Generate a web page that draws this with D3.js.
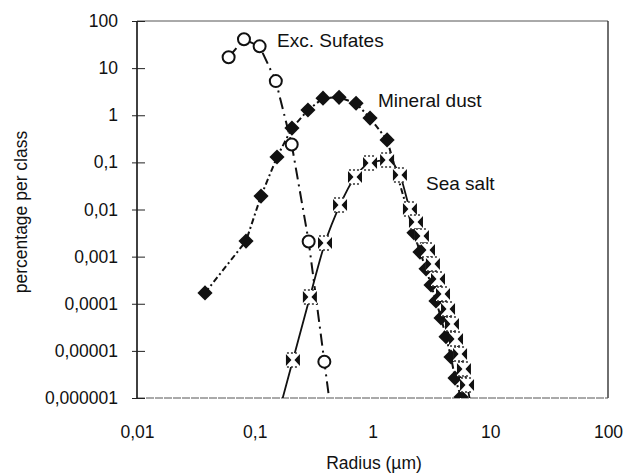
<!DOCTYPE html>
<html lang="en">
<head>
  <meta charset="UTF-8" />
  <title>Aerosol size distribution</title>
  <script src="https://cdnjs.cloudflare.com/ajax/libs/d3/7.8.2/d3.min.js"></script>
  <style>
    body {
      margin: 0;
      padding: 0;
      background: #fff;
    }
    svg {
      display: block;
      font-family: "Liberation Sans", Arial, sans-serif;
    }
    .axis text {
      font-size: 17.5px;
      fill: #111;
    }
    .label {
      font-size: 19px;
      fill: #111;
    }
  </style>
</head>
<body>

<svg id="chart" width="626" height="475"></svg>

<script>
/* -------------------------------------------------------
   DATA
------------------------------------------------------- */
const sulfRadius = [0.060, 0.081, 0.11, 0.151, 0.206, 0.287, 0.39];
const sulfValue  = [17, 41, 29, 5.3, 0.24, 0.0021, 0.0000059];

const dustRadius = [0.0378, 0.0843, 0.113, 0.1545, 0.207, 0.283, 0.38, 0.52, 0.725, 0.953, 1.33,
                    2.25, 2.53, 2.85, 3.14, 3.46, 3.82, 4.21, 4.64, 5.02, 5.65];
const dustValue  = [0.00017, 0.00214, 0.0193, 0.13, 0.535, 1.29, 2.3, 2.4, 1.8, 0.87, 0.3,
                    0.0032, 0.00125, 0.00055, 0.00025, 0.000115, 0.00005, 0.00002, 0.0000074, 0.00000265, 0.00000105];

const saltRadius = [0.211, 0.294, 0.395, 0.53, 0.71, 0.953, 1.33, 1.71,
                    2.08, 2.34, 2.63, 2.96, 3.26, 3.60, 3.97, 4.38, 4.73, 5.12, 5.54, 5.98, 6.35];
const saltValue  = [0.0000064, 0.000139, 0.00195, 0.0125, 0.049, 0.097, 0.112, 0.054,
                    0.0103, 0.0054, 0.00274, 0.00138, 0.0007, 0.000335, 0.000161, 0.000077, 0.000037, 0.0000179, 0.0000086, 0.0000041, 0.00000189];

const xTicks = [0.01, 0.1, 1, 10, 100];
const xTickLabels = ["0,01", "0,1", "1", "10", "100"];
const yTicks = [100, 10, 1, 0.1, 0.01, 0.001, 0.0001, 0.00001, 0.000001];
const yTickLabels = ["100", "10", "1", "0,1", "0,01", "0,001", "0,0001", "0,00001", "0,000001"];

const seriesNames = ["Exc. Sufates", "Mineral dust", "Sea salt"];

/* -------------------------------------------------------
   SETUP
------------------------------------------------------- */
const svg = d3.select("#chart");
const plotLeft = 137, plotRight = 608, plotTop = 21, plotBottom = 398;

const x = d3.scaleLog().domain([0.01, 100]).range([plotLeft, plotRight]);
const y = d3.scaleLog().domain([0.000001, 100]).range([plotBottom, plotTop]);

const zip = (rs, vs) => rs.map((r, i) => ({ r: r, v: vs[i] }));
const sulf = zip(sulfRadius, sulfValue);
const dust = zip(dustRadius, dustValue);
const salt = zip(saltRadius, saltValue);

svg.append("defs").append("clipPath").attr("id", "plotClip")
  .append("rect")
  .attr("x", plotLeft).attr("y", plotTop)
  .attr("width", plotRight - plotLeft).attr("height", plotBottom - plotTop);

// frame
svg.append("line").attr("x1", plotLeft).attr("x2", plotRight).attr("y1", plotTop).attr("y2", plotTop)
  .attr("stroke", "#555").attr("stroke-width", 1);
svg.append("line").attr("x1", plotRight).attr("x2", plotRight).attr("y1", plotTop).attr("y2", plotBottom)
  .attr("stroke", "#222").attr("stroke-width", 1.3);
svg.append("line").attr("x1", plotLeft).attr("x2", plotRight).attr("y1", plotBottom).attr("y2", plotBottom)
  .attr("stroke", "#555").attr("stroke-width", 1).attr("stroke-dasharray", "8,1");
svg.append("line").attr("x1", plotLeft).attr("x2", plotLeft).attr("y1", plotTop).attr("y2", plotBottom)
  .attr("stroke", "#111").attr("stroke-width", 1.6);

/* -------------------------------------------------------
   AXES
------------------------------------------------------- */
const yAxis = svg.append("g")
  .attr("class", "axis")
  .attr("transform", `translate(${plotLeft},0)`)
  .call(d3.axisLeft(y).tickValues(yTicks).tickSize(5).tickPadding(14)
    .tickFormat((d, i) => yTickLabels[i]));
yAxis.select(".domain").remove();
yAxis.selectAll(".tick line").attr("x1", 8).attr("stroke", "#222");
yAxis.attr("font-family", null).attr("font-size", null);

const xAxis = svg.append("g")
  .attr("class", "axis")
  .attr("transform", `translate(0,${plotBottom})`)
  .call(d3.axisBottom(x).tickValues(xTicks).tickSize(0).tickPadding(28)
    .tickFormat((d, i) => xTickLabels[i]));
xAxis.select(".domain").remove();
xAxis.attr("font-family", null).attr("font-size", null);

svg.append("text")
  .attr("class", "label")
  .attr("x", 374).attr("y", 469)
  .attr("text-anchor", "middle")
  .style("font-size", "17.5px")
  .text("Radius (µm)");

svg.append("text")
  .attr("class", "label")
  .attr("transform", "translate(27,212) rotate(-90)")
  .attr("text-anchor", "middle")
  .style("font-size", "17.5px")
  .text("percentage per class");

/* -------------------------------------------------------
   LINES
------------------------------------------------------- */
const plot = svg.append("g").attr("clip-path", "url(#plotClip)");

// extend a screen-space polyline down to the bottom axis along its end segment
function toBottom(a, b) {
  const t = (plotBottom + 4 - a[1]) / (b[1] - a[1]);
  return [a[0] + (b[0] - a[0]) * t, plotBottom + 4];
}

const pts = data => data.map(d => [x(d.r), y(d.v)]);

const sulfPts = pts(sulf);
sulfPts.push(toBottom(sulfPts[sulfPts.length - 2], sulfPts[sulfPts.length - 1]));
plot.append("path")
  .attr("d", d3.line()(sulfPts))
  .attr("fill", "none").attr("stroke", "#111").attr("stroke-width", 2)
  .attr("stroke-dasharray", "12,5,2,5");

plot.append("path")
  .attr("d", d3.line()(pts(dust)))
  .attr("fill", "none").attr("stroke", "#111").attr("stroke-width", 2)
  .attr("stroke-dasharray", "6,3,2,3");

const saltPts = pts(salt);
saltPts.unshift(toBottom(saltPts[1], saltPts[0]));
saltPts.push(toBottom(saltPts[saltPts.length - 2], saltPts[saltPts.length - 1]));
plot.append("path")
  .attr("d", d3.line().curve(d3.curveMonotoneX)(saltPts))
  .attr("fill", "none").attr("stroke", "#111").attr("stroke-width", 1.8);

/* -------------------------------------------------------
   MARKERS
------------------------------------------------------- */
plot.selectAll(".sulf").data(sulf).enter()
  .append("circle")
  .attr("class", "sulf")
  .attr("cx", d => x(d.r)).attr("cy", d => y(d.v))
  .attr("r", 6)
  .attr("fill", "#fff").attr("stroke", "#111").attr("stroke-width", 2);

plot.selectAll(".dust").data(dust).enter()
  .append("path")
  .attr("class", "dust")
  .attr("transform", d => `translate(${x(d.r)},${y(d.v)}) rotate(45)`)
  .attr("d", d3.symbol().type(d3.symbolSquare).size(115))
  .attr("fill", "#111");

const saltG = plot.selectAll(".salt").data(salt).enter()
  .append("g")
  .attr("class", "salt")
  .attr("transform", d => `translate(${x(d.r)},${y(d.v)})`);
saltG.append("rect")
  .attr("x", -7).attr("y", -7).attr("width", 14).attr("height", 14)
  .attr("fill", "#fff");
saltG.append("path")
  .attr("d", "M-7,-6L-1.5,0L-7,6Z M7,-6L1.5,0L7,6Z")
  .attr("fill", "#111");
saltG.append("path")
  .attr("d", "M-6,-7L6,-7 M-6,7L6,7")
  .attr("stroke", "#333").attr("stroke-width", 1.5).attr("stroke-dasharray", "2,2")
  .attr("fill", "none");

/* -------------------------------------------------------
   SERIES LABELS
------------------------------------------------------- */
svg.append("text").attr("class", "label").attr("x", 277).attr("y", 47).text(seriesNames[0]);
svg.append("text").attr("class", "label").attr("x", 378).attr("y", 107).text(seriesNames[1]);
svg.append("text").attr("class", "label").attr("x", 426).attr("y", 190).text(seriesNames[2]);
</script>

</body>
</html>
